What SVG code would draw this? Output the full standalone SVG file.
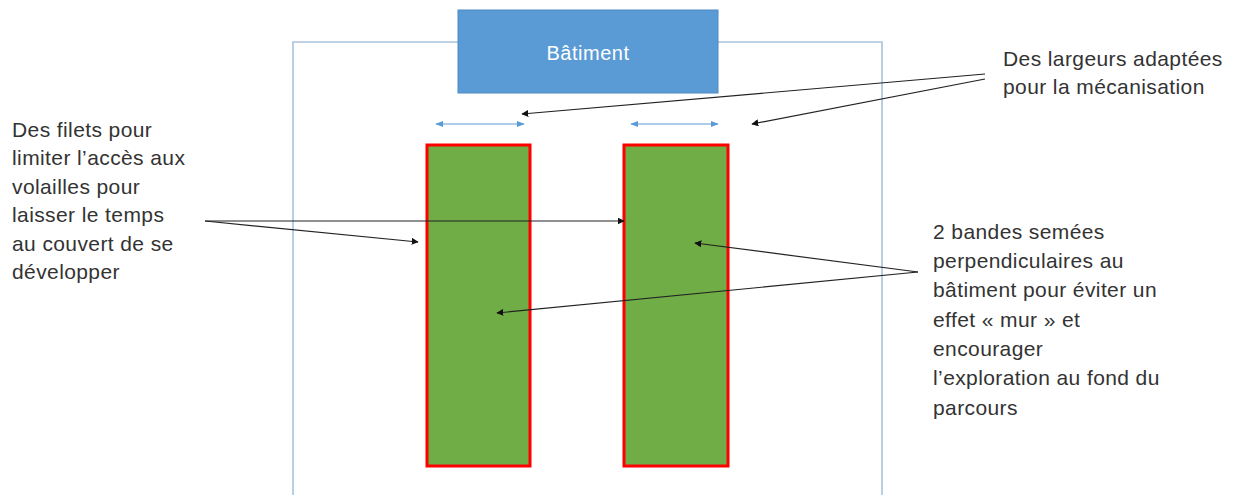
<svg xmlns="http://www.w3.org/2000/svg" width="1235" height="495" viewBox="0 0 1235 495">
<style>
.lbl{font-family:"Liberation Sans",Arial,sans-serif;font-size:21px;letter-spacing:0.4px;fill:#333}
.con{stroke:#222;stroke-width:1.2;fill:none}
.dim{stroke:#5b9bd5;stroke-width:1;fill:none}
.band{fill:#70ad47;stroke:#ff0000;stroke-width:3}
</style>
<defs>
<marker id="ah" viewBox="0 0 10 10" refX="9" refY="5" markerWidth="7" markerHeight="7" orient="auto" markerUnits="userSpaceOnUse"><path d="M0,0L10,5L0,10z" fill="#111"/></marker>
<marker id="bh" viewBox="0 0 10 10" refX="9" refY="5" markerWidth="8" markerHeight="8" orient="auto-start-reverse" markerUnits="userSpaceOnUse"><path d="M0,1L10,5L0,9z" fill="#5b9bd5"/></marker>
</defs>
<rect width="1235" height="495" fill="#fff"/>
<g id="parcours"><path d="M293,495V42H882V495" fill="none" stroke="#a9c2de" stroke-width="1.6"/></g>
<g id="batiment"><rect x="458" y="10" width="260" height="83" fill="#5b9bd5" stroke="#4f8ac4" stroke-width="1"/><text x="588" y="60" text-anchor="middle" font-family="'Liberation Sans',Arial,sans-serif" font-size="20" letter-spacing="0.5" fill="#fff">Bâtiment</text></g>
<g id="bande1"><rect class="band" x="427" y="145" width="103" height="321"/></g>
<g id="bande2"><rect class="band" x="624" y="145" width="104" height="321"/></g>
<g id="connectors">
<line class="dim" x1="436" y1="124" x2="524" y2="124" marker-start="url(#bh)" marker-end="url(#bh)"/>
<line class="dim" x1="631" y1="124" x2="718" y2="124" marker-start="url(#bh)" marker-end="url(#bh)"/>
<line class="con" x1="985" y1="74" x2="522" y2="114" marker-end="url(#ah)"/>
<line class="con" x1="985" y1="79" x2="752" y2="124" marker-end="url(#ah)"/>
<line class="con" x1="205" y1="221" x2="624" y2="221" marker-end="url(#ah)"/>
<line class="con" x1="205" y1="221" x2="418" y2="242" marker-end="url(#ah)"/>
<line class="con" x1="918" y1="272" x2="695" y2="243" marker-end="url(#ah)"/>
<line class="con" x1="918" y1="272" x2="497" y2="313" marker-end="url(#ah)"/>
</g>
<g id="note-largeurs"><text class="lbl" x="1003" y="66">Des largeurs adaptées</text><text class="lbl" x="1003" y="94">pour la mécanisation</text></g>
<g id="note-filets">
<text class="lbl" x="12" y="137">Des filets pour</text>
<text class="lbl" x="12" y="165">limiter l’accès aux</text>
<text class="lbl" x="12" y="194">volailles pour</text>
<text class="lbl" x="12" y="222">laisser le temps</text>
<text class="lbl" x="12" y="251">au couvert de se</text>
<text class="lbl" x="12" y="279">développer</text>
</g>
<g id="note-bandes">
<text class="lbl" x="933" y="239">2 bandes semées</text>
<text class="lbl" x="933" y="268">perpendiculaires au</text>
<text class="lbl" x="933" y="297">bâtiment pour éviter un</text>
<text class="lbl" x="933" y="327">effet « mur » et</text>
<text class="lbl" x="933" y="356">encourager</text>
<text class="lbl" x="933" y="385">l’exploration au fond du</text>
<text class="lbl" x="933" y="415">parcours</text>
</g>
</svg>
